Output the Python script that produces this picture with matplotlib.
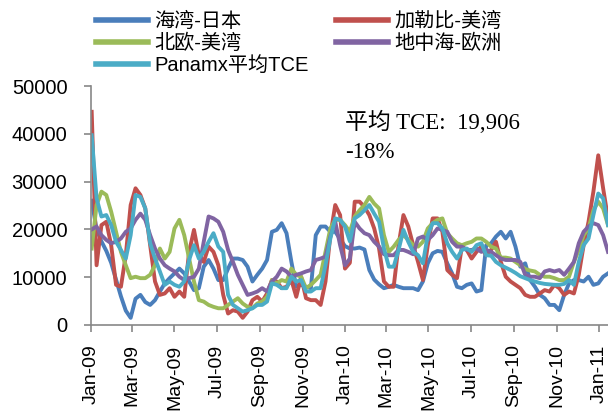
import matplotlib
matplotlib.use("Agg")
import matplotlib.pyplot as plt
import matplotlib.dates as mdates
import pandas as pd

dates = pd.date_range("2009-01-02", periods=107, freq="7D")

gulf_japan = [26000, 20000, 17500, 15500, 13000, 9500, 6000, 3000, 1500, 5500, 6300, 4800, 4200, 5200, 7000, 8700, 9800, 10800, 11800, 10800, 9100, 7300, 7700, 12200, 13600, 11800, 9400,
              9400, 11800, 13900, 13900, 13600, 12200, 9100, 10500, 11800, 13600, 19500, 19900, 21300, 19200, 13200, 8000, 8400, 8000, 7700, 18800, 20600, 20600, 19500, 19500, 18000, 16500, 16000,
              16000, 16200, 15800, 11500, 9500, 8500, 7700, 8000, 8400, 8000, 7700, 7700, 7700, 7300, 9100, 12900, 15000, 15500, 15300, 12900, 10800, 8000, 7700, 8400, 8700, 7000,
              7300, 16700, 17100, 18500, 19500, 18100, 19500, 16400, 12200, 12900, 9400, 8000, 6300, 5600, 4200, 4200, 3100, 6300, 8700, 9400, 9400, 9100, 10100, 8400, 8700, 10100, 10800]
carib_usg = [44600, 12500, 20900, 21600, 16700, 8400, 8000, 14600, 25100, 28600, 27200, 24400, 16700, 9100, 6300, 6600, 7700, 5900, 7000, 5900, 15300, 19900, 14600, 13200, 16400, 15300, 12500,
             6300, 2400, 3100, 2800, 1500, 2800, 5200, 5900, 4900, 6600, 9400, 9100, 7700, 8000, 9400, 5900, 10100, 5600, 5200, 5200, 4200, 9100, 18800, 25100, 23000, 11800, 13000,
             25800, 25800, 24700, 23000, 20200, 16000, 9100, 8000, 8000, 16700, 23000, 20600, 16700, 13200, 9400, 16700, 22300, 22300, 19500, 11500, 10500, 9800, 16400, 15700, 13900, 15300,
             16400, 14600, 15700, 17400, 13200, 10100, 9100, 8400, 7700, 6300, 5900, 5900, 6600, 7300, 7000, 8400, 7700, 6300, 7000, 6600, 10500, 16700, 21600, 27900, 35500, 28600, 22300]
nEur_usg = [16000, 25100, 27900, 27200, 23700, 19500, 15300, 12500, 9800, 10100, 9800, 9800, 10500, 12500, 16000, 13900, 15300, 20200, 22000, 18800, 13900, 9100, 5200, 4900, 4200, 3800, 3500,
            3500, 4200, 4900, 5600, 4500, 3800, 3500, 4500, 4900, 5900, 9400, 8700, 9400, 9100, 11800, 10500, 10100, 7700, 8400, 9400, 10500, 15300, 20200, 22000, 22000, 20900, 19500,
            22700, 24000, 25100, 26800, 25400, 24400, 18800, 15300, 16400, 17800, 18800, 17800, 16700, 16400, 17400, 20200, 21300, 22000, 22300, 19200, 18100, 17100, 16700, 17100, 17400, 18100,
            18100, 17400, 16400, 16000, 14100, 14100, 13900, 13200, 12500, 11700, 11400, 11200, 10500, 10100, 10100, 9800, 9400, 9400, 10100, 13200, 15700, 18800, 20200, 24000, 25800, 24400, 20900]
med_eur = [20000, 20600, 18800, 17800, 17100, 17400, 18100, 19500, 20200, 22000, 23300, 22000, 18800, 16000, 13900, 12500, 11800, 11200, 10100, 9400, 9800, 10100, 11800, 17400, 22700, 22300, 21600,
           19500, 15700, 13200, 10500, 8400, 6300, 6600, 7000, 7700, 7000, 9100, 10100, 11800, 11200, 10100, 10500, 10800, 11200, 11500, 13600, 13900, 14300, 18500, 21600, 16700, 12500, 13900,
           21600, 20200, 19200, 18800, 17400, 16400, 14800, 14600, 14600, 15700, 15700, 15300, 14800, 18100, 18500, 17800, 18800, 20200, 19900, 19500, 17400, 16400, 16400, 15700, 15700, 16000,
           15300, 15700, 15300, 14600, 13900, 13600, 13600, 13600, 13200, 10500, 10100, 10100, 9800, 11200, 11500, 11200, 11500, 10500, 11800, 13200, 17100, 19500, 20600, 21300, 20900, 18800, 15300]
panamax_avg = [39700, 26500, 22700, 23000, 20900, 17400, 15700, 13900, 18800, 27200, 26800, 24400, 17100, 13900, 11200, 8400, 9100, 8400, 8000, 9100, 13600, 16700, 13900, 15300, 17400, 19200, 16400,
               15300, 6300, 4200, 3500, 2800, 3100, 3500, 4200, 4200, 4900, 8700, 8400, 7700, 7700, 10100, 9100, 9400, 7000, 7000, 7700, 7700, 12500, 18100, 22300, 22000, 20600, 17500,
               22300, 23000, 24000, 25100, 23300, 21600, 16000, 12200, 12200, 15700, 19900, 17400, 15300, 14600, 12900, 18800, 21300, 21300, 20200, 17100, 15300, 13900, 15700, 16000, 15300, 16700,
               17100, 14600, 14500, 13200, 12500, 12000, 11500, 10900, 10200, 9800, 9400, 9100, 8800, 8600, 8500, 8400, 8400, 8600, 9400, 8400, 13200, 16700, 18100, 23000, 27500, 26500, 20900]

labels = ["海湾-日本", "加勒比-美湾", "北欧-美湾", "地中海-欧洲", "Panamx平均TCE"]
colors = ["#4A7EBB", "#C0504D", "#9BBB59", "#8064A2", "#4BACC6"]
series = [gulf_japan, carib_usg, nEur_usg, med_eur, panamax_avg]
yticks = [0, 10000, 20000, 30000, 40000, 50000]
annot_line1 = "平均 TCE:  19,906"
annot_line2 = "-18%"

sans = ["Liberation Sans", "Noto Sans CJK SC"]
serif = ["Liberation Serif", "Noto Sans CJK SC"]

fig = plt.figure(figsize=(6.08, 4.12), dpi=100)
ax = fig.add_axes([91/608, 1-325/412, 1-91/608, (325-86)/412])

handles = []
for vals, lab, col in zip(series, labels, colors):
    h, = ax.plot(dates, vals, color=col, lw=2.8, label=lab, solid_joinstyle="round")
    handles.append(h)

ax.set_ylim(0, 50000)
ax.set_yticks(yticks)
ax.set_xlim(pd.Timestamp("2009-01-01"), pd.Timestamp("2011-01-14"))
ax.xaxis.set_major_locator(mdates.MonthLocator(bymonth=[1, 3, 5, 7, 9, 11]))
ax.xaxis.set_major_formatter(mdates.DateFormatter("%b-%y"))

for s in ["top", "right"]:
    ax.spines[s].set_visible(False)
for s in ["left", "bottom"]:
    ax.spines[s].set_color("#878787")
    ax.spines[s].set_linewidth(1.2)
ax.tick_params(axis="both", colors="#878787", length=5, width=1.2, labelcolor="black")
ax.tick_params(axis="y", pad=12, labelsize=14.5)
ax.tick_params(axis="x", pad=9, labelsize=14, labelrotation=90)
for t in ax.get_yticklabels() + ax.get_xticklabels():
    t.set_family(sans)

order = [0, 2, 4, 1, 3]
leg = fig.legend([handles[i] for i in order], [labels[i] for i in order],
                 loc="upper left", bbox_to_anchor=(88/608, 1-4/412), ncol=2,
                 frameon=False, handlelength=2.6, handletextpad=0.3,
                 columnspacing=1.35, labelspacing=0.15, borderaxespad=0,
                 prop={"family": sans, "size": 14.5})
for l in leg.get_lines():
    l.set_linewidth(4)

fig.text(345/608, 1-122/412, annot_line1, family=serif, fontsize=16.5, va="center", ha="left")
fig.text(345/608, 1-152/412, annot_line2, family=serif, fontsize=16.5, va="center", ha="left")

fig.savefig("out.png", dpi=100)
